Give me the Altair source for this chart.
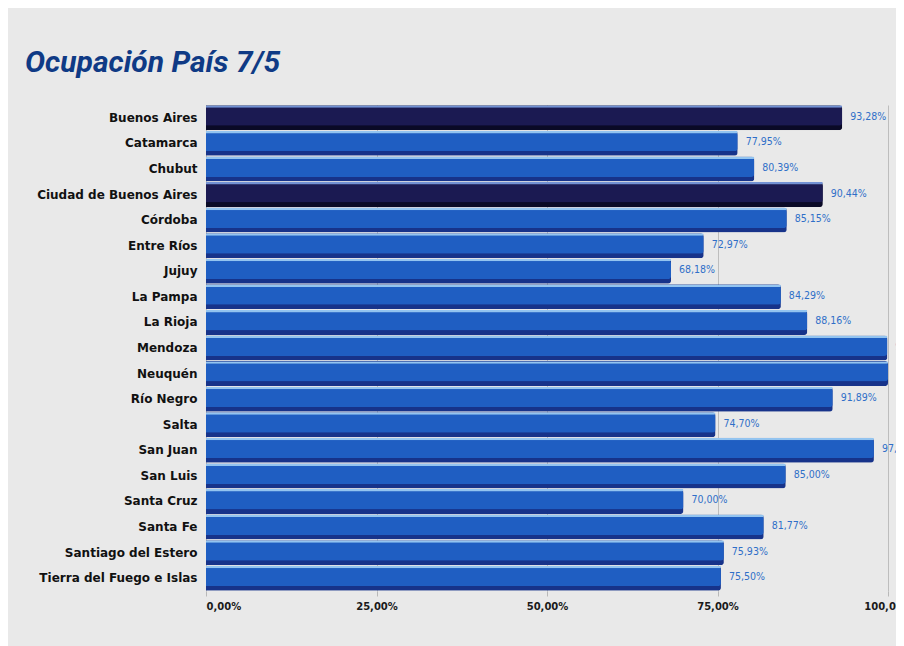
import altair as alt
import pandas as pd

provincias = [
    "Buenos Aires", "Catamarca", "Chubut", "Ciudad de Buenos Aires", "Córdoba",
    "Entre Ríos", "Jujuy", "La Pampa", "La Rioja", "Mendoza", "Neuquén",
    "Río Negro", "Salta", "San Juan", "San Luis", "Santa Cruz", "Santa Fe",
    "Santiago del Estero", "Tierra del Fuego e Islas",
]
ocupacion = [
    93.28, 77.95, 80.39, 90.44, 85.15,
    72.97, 68.18, 84.29, 88.16, 99.90, 100.00,
    91.89, 74.70, 97.93, 85.00, 70.00, 81.77,
    75.93, 75.50,
]
destacadas = ["Buenos Aires", "Ciudad de Buenos Aires"]
ticks = [0, 25, 50, 75, 100]

df = pd.DataFrame({"provincia": provincias, "valor": ocupacion})
df["grupo"] = ["dest" if p in destacadas else "resto" for p in provincias]
df["etiqueta"] = [f"{v:.2f}".replace(".", ",") + "%" for v in ocupacion]

y_enc = alt.Y("provincia:N", sort=provincias,
              scale=alt.Scale(paddingInner=0, paddingOuter=0),
              axis=alt.Axis(title=None, domain=False, ticks=False, labelPadding=9,
                            labelFont="DejaVu Sans", labelFontWeight="bold",
                            labelFontSize=12, labelColor="#111111"))
x_enc = alt.X("valor:Q", scale=alt.Scale(domain=[0, 101.17], nice=False, zero=True),
              axis=alt.Axis(title=None, values=ticks, domain=False, ticks=True,
                            tickSize=5, tickColor="#b8b8b8",
                            grid=True, gridColor="#bdbdbd", gridWidth=1,
                            labelFont="DejaVu Sans", labelFontWeight="bold",
                            labelFontSize=10, labelColor="#1a1a1a", labelPadding=5,
                            labelExpr="replace(format(datum.value, '.2f'), '.', ',') + '%'"))

base = alt.Chart(df)

edge = base.mark_bar(size=25, cornerRadiusEnd=3).encode(
    x=x_enc, y=y_enc,
    color=alt.Color("grupo:N", legend=None,
                    scale=alt.Scale(domain=["dest", "resto"], range=["#0a0a26", "#17338a"])),
)
main = base.mark_bar(size=19, yOffset=-1.5, cornerRadiusEnd=3).encode(
    x="valor:Q", y=alt.Y("provincia:N", sort=provincias),
    color=alt.Color("grupo:N", legend=None,
                    scale=alt.Scale(domain=["dest", "resto"], range=["#1b1a52", "#1f5ec2"])),
)
hi = base.mark_bar(size=2.5, yOffset=-11.2, cornerRadiusEnd=1).encode(
    x="valor:Q", y=alt.Y("provincia:N", sort=provincias),
    color=alt.Color("grupo:N", legend=None,
                    scale=alt.Scale(domain=["dest", "resto"], range=["#7392d4", "#93c4f0"])),
)
labels = base.mark_text(align="left", baseline="middle", dx=8, dy=-1,
                        font="DejaVu Sans Condensed", fontSize=10.5,
                        color="#2f6fc8").encode(
    x="valor:Q", y=alt.Y("provincia:N", sort=provincias), text="etiqueta:N",
)

chart = alt.layer(edge, main, hi, labels).resolve_scale(color="independent").properties(
    width=690, height=486,
    padding={"left": 198, "top": 97, "right": 0, "bottom": 55},
    autosize=alt.AutoSizeParams(type="none"),
    background="#e9e9e9",
    title=alt.TitleParams(
        "Ocupación País 7/5", anchor="start", frame="group", dx=-181,
        offset=33, dy=30, baseline="alphabetic",
        font="Roboto", fontSize=30,
        fontStyle="italic", fontWeight="bold", color="#0f3a85",
    ),
).configure_view(stroke=None)

chart.save("out.html", embed_options={"renderer": "svg", "actions": False})
